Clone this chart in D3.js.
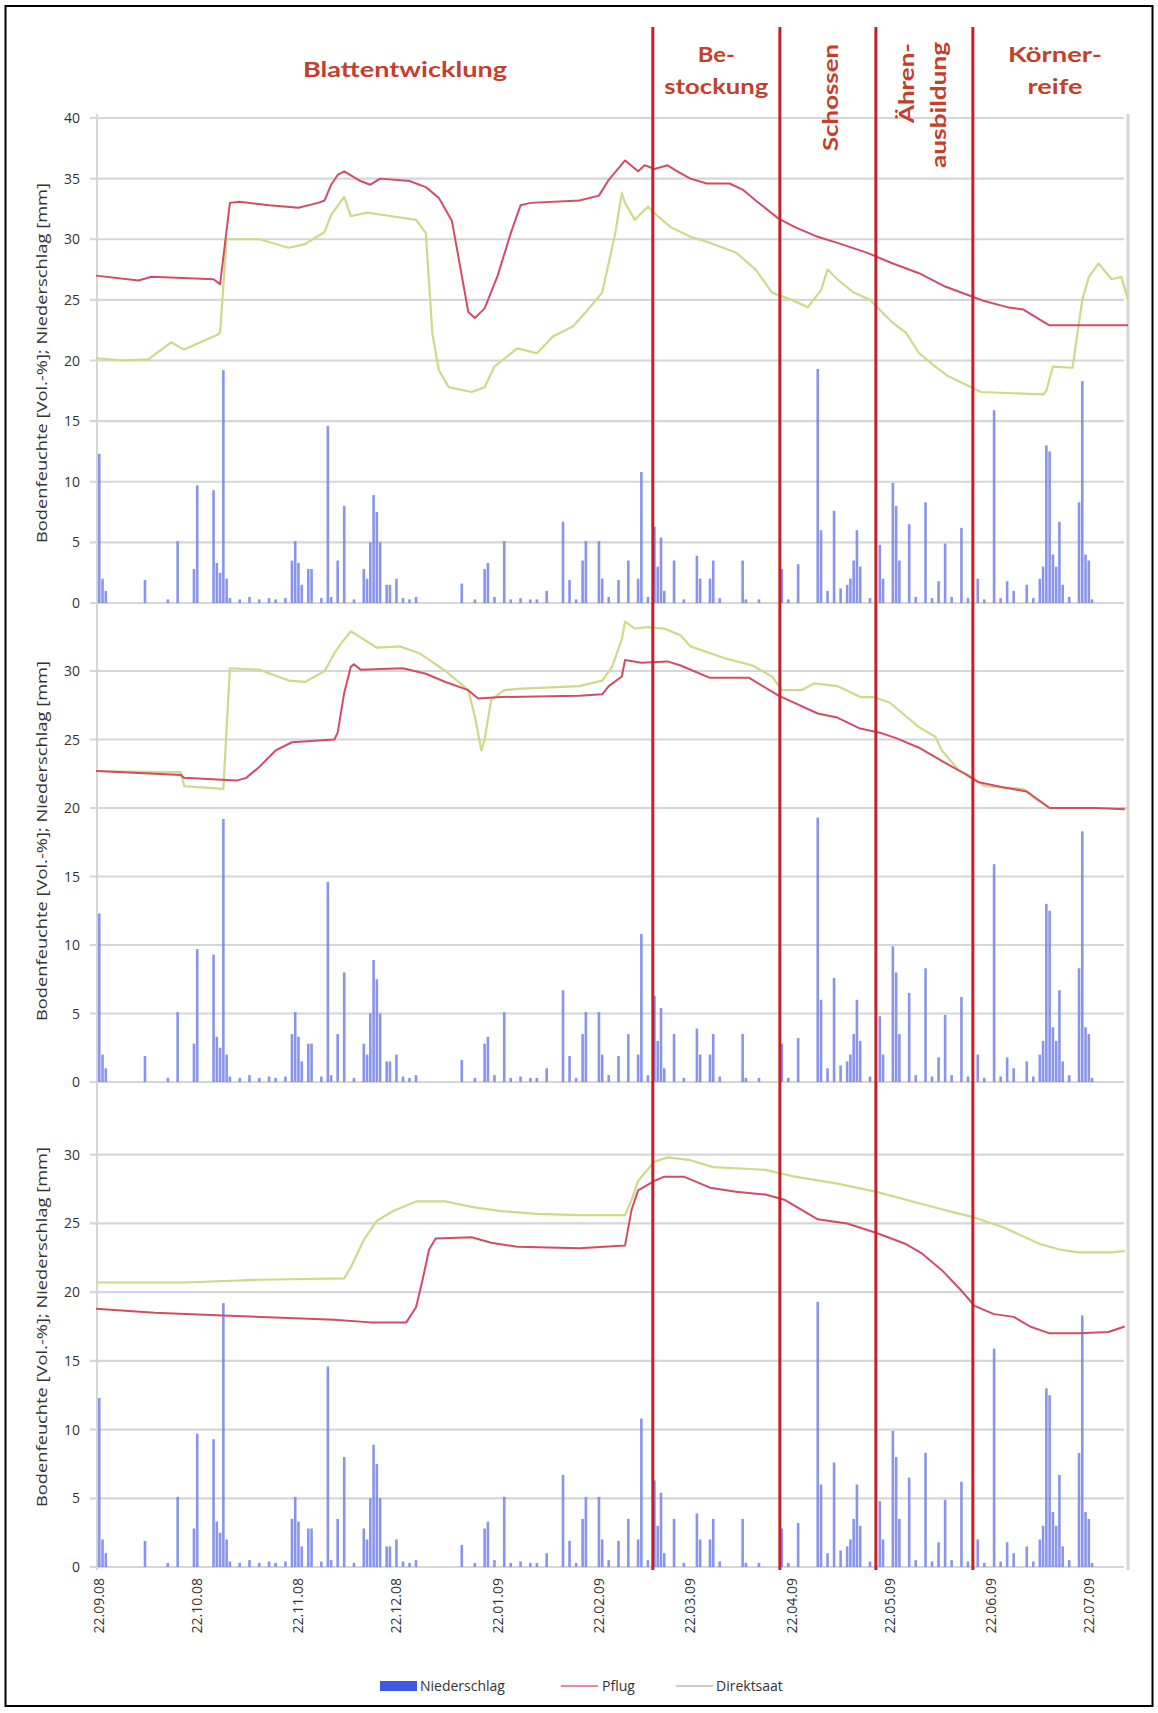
<!DOCTYPE html>
<html><head><meta charset="utf-8">
<script src="https://cdn.jsdelivr.net/npm/d3@7"></script>
<style>body{margin:0;background:#fff}svg{display:block}</style>
</head><body>
<svg id="c" width="1158" height="1713"></svg>
<script>
// ---------- DATA ----------
const startDate = new Date(2008, 8, 21);   // day 0 = 21.09.2008
const lastDay = 316;
const tickDates = ["22.09.08","22.10.08","22.11.08","22.12.08","22.01.09","22.02.09","22.03.09","22.04.09","22.05.09","22.06.09","22.07.09"];

// daily precipitation (Niederschlag) [mm]: day offset, value
const rainDays = [1,2,3,15,22,25,30,31,36,37,38,39,40,41,44,47,50,53,55,58,60,61,62,63,65,66,69,71,72,74,76,79,82,83,84,85,86,87,89,90,92,94,96,98,112,116,119,120,122,125,127,130,133,135,138,143,145,147,149,150,154,155,157,160,163,166,167,169,171,172,173,174,177,180,184,185,188,189,191,198,199,203,210,212,215,221,222,224,226,228,230,231,232,233,234,237,240,241,244,245,246,249,251,254,256,258,260,262,265,267,270,272,275,277,279,281,285,287,289,290,291,292,293,294,295,296,298,301,302,303,304,305];
const rainValues = [12.3,2.0,1.0,1.9,0.3,5.1,2.8,9.7,9.3,3.3,2.5,19.2,2.0,0.4,0.3,0.5,0.3,0.4,0.3,0.4,3.5,5.1,3.3,1.5,2.8,2.8,0.4,14.6,0.5,3.5,8.0,0.3,2.8,2.0,5.0,8.9,7.5,5.0,1.5,1.5,2.0,0.4,0.3,0.5,1.6,0.3,2.8,3.3,0.5,5.1,0.3,0.4,0.3,0.3,1.0,6.7,1.9,0.3,3.5,5.1,5.1,2.0,0.5,1.9,3.5,2.0,10.8,0.5,6.3,3.0,5.4,1.0,3.5,0.3,3.9,2.0,2.0,3.5,0.4,3.5,0.3,0.3,2.8,0.3,3.2,19.3,6.0,1.0,7.6,1.2,1.5,2.0,3.5,6.0,3.0,0.4,4.8,2.0,9.9,8.0,3.5,6.5,0.5,8.3,0.4,1.8,4.9,0.5,6.2,0.4,2.0,0.3,15.9,0.4,1.8,1.0,1.5,0.4,2.0,3.0,13.0,12.5,4.0,3.0,6.7,1.5,0.5,8.3,18.3,4.0,3.5,0.3];

// soil moisture (Bodenfeuchte) [Vol.-%]: [day offset, value]
const pflug1 = [[0,27.0],[13,26.6],[17,26.9],[36,26.7],[38,26.3],[41,33.0],[44,33.1],[53,32.8],[62,32.6],[68,33.0],[70,33.2],[72,34.5],[74,35.3],[76,35.6],[81,34.8],[84,34.5],[87,35.0],[96,34.8],[101,34.3],[105,33.4],[109,31.5],[112,27.0],[114,24.0],[116,23.5],[119,24.3],[123,27.0],[127,30.5],[130,32.8],[133,33.0],[148,33.2],[154,33.6],[157,34.9],[162,36.5],[166,35.6],[168,36.1],[171,35.8],[175,36.1],[178,35.6],[182,35.0],[187,34.6],[194,34.6],[198,34.1],[202,33.2],[209,31.7],[214,31.0],[221,30.2],[227,29.7],[236,28.9],[244,28.0],[252,27.2],[260,26.1],[268,25.3],[272,24.9],[279,24.4],[284,24.2],[290,23.2],[292,22.9],[316,22.9]];
const direkt1 = [[0,20.2],[8,20.0],[16,20.1],[23,21.5],[27,20.9],[37,22.1],[38,22.3],[40,30.0],[50,30.0],[59,29.3],[64,29.6],[70,30.6],[72,32.0],[76,33.5],[78,31.9],[83,32.2],[88,32.0],[98,31.6],[101,30.5],[103,22.2],[105,19.2],[108,17.8],[115,17.4],[119,17.8],[122,19.5],[129,21.0],[135,20.6],[140,22.0],[146,22.8],[150,24.0],[155,25.6],[159,30.5],[161,33.8],[162,33.0],[165,31.6],[169,32.7],[172,31.9],[176,31.0],[182,30.2],[187,29.8],[196,28.9],[202,27.5],[207,25.6],[213,25.0],[218,24.4],[222,25.8],[224,27.5],[227,26.7],[232,25.6],[237,25.0],[241,23.9],[244,23.1],[248,22.3],[252,20.6],[257,19.5],[261,18.7],[268,17.8],[271,17.4],[281,17.3],[290,17.2],[291,17.5],[293,19.5],[299,19.4],[302,25.0],[304,26.9],[307,28.0],[311,26.7],[314,26.9],[316,25.0]];
const pflug2 = [[0,22.7],[18,22.5],[26,22.4],[27,22.2],[43,22.0],[46,22.2],[50,23.0],[55,24.2],[60,24.8],[73,25.0],[74,25.5],[76,28.4],[78,30.3],[79,30.5],[81,30.1],[94,30.2],[101,29.8],[107,29.2],[114,28.6],[117,28.0],[124,28.1],[148,28.2],[155,28.3],[157,28.9],[161,29.6],[162,30.8],[167,30.6],[175,30.7],[179,30.4],[188,29.5],[200,29.5],[209,28.2],[221,26.9],[227,26.6],[234,25.8],[240,25.5],[245,25.1],[252,24.4],[260,23.3],[266,22.5],[270,21.9],[278,21.5],[285,21.2],[292,20.0],[306,20.0],[315,19.9]];
const direkt2 = [[0,22.7],[26,22.6],[27,21.6],[39,21.4],[41,30.2],[50,30.1],[59,29.3],[64,29.2],[70,30.0],[73,31.3],[75,32.0],[78,32.9],[82,32.3],[86,31.7],[93,31.8],[99,31.3],[107,30.0],[114,28.6],[116,26.7],[118,24.2],[119,25.0],[121,27.9],[125,28.6],[129,28.7],[148,28.9],[155,29.3],[158,30.3],[161,32.3],[162,33.6],[165,33.1],[169,33.2],[174,33.1],[179,32.6],[182,31.8],[193,30.9],[201,30.4],[207,29.6],[210,28.6],[216,28.6],[220,29.1],[227,28.9],[234,28.1],[238,28.1],[243,27.7],[247,26.9],[252,25.9],[257,25.2],[259,24.2],[264,22.8],[268,22.3],[272,21.6],[278,21.5],[284,21.4],[287,20.8],[292,20.0],[316,20.0]];
const pflug3 = [[0,18.8],[18,18.5],[39,18.3],[61,18.1],[73,18.0],[84,17.8],[95,17.8],[98,18.9],[100,20.9],[102,23.1],[104,23.9],[115,24.0],[121,23.6],[129,23.3],[148,23.2],[162,23.4],[164,26.0],[166,27.4],[171,28.1],[174,28.4],[180,28.4],[188,27.6],[196,27.3],[205,27.1],[211,26.7],[221,25.3],[230,25.0],[239,24.3],[248,23.5],[253,22.8],[259,21.6],[265,20.1],[269,19.0],[275,18.4],[281,18.2],[286,17.5],[292,17.0],[301,17.0],[310,17.1],[315,17.5]];
const direkt3 = [[0,20.7],[27,20.7],[50,20.9],[76,21.0],[78,21.8],[82,23.8],[86,25.2],[91,25.9],[98,26.6],[107,26.6],[115,26.2],[124,25.9],[135,25.7],[148,25.6],[162,25.6],[164,26.7],[166,28.1],[171,29.5],[175,29.8],[182,29.6],[189,29.1],[205,28.9],[214,28.4],[227,27.9],[239,27.3],[250,26.6],[261,25.9],[268,25.5],[278,24.7],[289,23.5],[295,23.1],[301,22.9],[311,22.9],[315,23.0]];

// growth phases: boundaries (day offsets) and labels
const phaseBounds = [170.5, 209.4, 238.8, 268.5];
const phaseNames = ["Blattentwicklung", "Be-|stockung", "Schossen", "Ähren-|ausbildung", "Körner-|reife"];

const yAxisTitle = "Bodenfeuchte [Vol.-%]; Niederschlag [mm]";
const legendNames = ["Niederschlag", "Pflug", "Direktsaat"];

// ---------- DRAW ----------
const svg = d3.select("#c");
const day = d => d3.timeDay.offset(startDate, Math.floor(d)).getTime() + (d - Math.floor(d)) * 864e5;
const x = d3.scaleTime().domain([startDate, d3.timeDay.offset(startDate, lastDay)]).range([96, 1128]);
const parseTick = d3.timeParse("%d.%m.%y");

const C = {grid:"#d6d6d6", rain:"#7482e6", pflug:"#d24d64", direkt:"#d0d88a", phase:"#c4202a", label:"#c4402a", text:"#333"};

// frame
svg.append("rect").attr("x",5.5).attr("y",6).attr("width",1147).attr("height",1700)
  .attr("fill","none").attr("stroke","#000").attr("stroke-width",2);

const panels = [
  {top:118, bottom:603, max:40, ticks:d3.range(0,41,5), pflug:pflug1, direkt:direkt1, titleY:363},
  {top:602.5, bottom:1082, max:35, ticks:d3.range(0,31,5), pflug:pflug2, direkt:direkt2, titleY:841},
  {top:1086, bottom:1567, max:35, ticks:d3.range(0,31,5), pflug:pflug3, direkt:direkt3, titleY:1327}
];

// outer vertical axis lines
svg.append("line").attr("x1",97).attr("x2",97).attr("y1",114).attr("y2",1570).attr("stroke",C.grid).attr("stroke-width",2);
svg.append("line").attr("x1",1128).attr("x2",1128).attr("y1",114).attr("y2",1570).attr("stroke",C.grid).attr("stroke-width",3);

const rain = rainDays.map((d,i)=>({d, v:rainValues[i]}));

panels.forEach(p => {
  const y = d3.scaleLinear().domain([0,p.max]).range([p.bottom,p.top]);
  const g = svg.append("g");
  g.selectAll("line.grid").data(p.ticks).join("line")
    .attr("x1",90).attr("x2",1124).attr("y1",d=>y(d)).attr("y2",d=>y(d))
    .attr("stroke",C.grid).attr("stroke-width",2.2);
  g.selectAll("text.tick").data(p.ticks).join("text")
    .attr("x",80).attr("y",d=>y(d)+5).attr("text-anchor","end")
    .attr("font-family","Open Sans, sans-serif").attr("font-size",14).attr("fill",C.text).text(d=>d);
  g.selectAll("rect.rain").data(rain).join("rect")
    .attr("x",d=>x(day(d.d))-1.3).attr("width",2.6)
    .attr("y",d=>y(d.v)).attr("height",d=>y(0)-y(d.v))
    .attr("fill",C.rain).attr("opacity",0.85);
  const line = d3.line().x(d=>x(day(d[0]))).y(d=>y(d[1]));
  g.append("path").attr("d",line(p.direkt)).attr("fill","none").attr("stroke",C.direkt).attr("stroke-width",2.2).attr("stroke-linejoin","round");
  g.append("path").attr("d",line(p.pflug)).attr("fill","none").attr("stroke",C.pflug).attr("stroke-width",2).attr("stroke-linejoin","round");
  g.append("text").attr("transform",`translate(42,${p.titleY}) rotate(-90)`)
    .attr("text-anchor","middle").attr("dy","0.35em")
    .attr("font-family","Open Sans, sans-serif").attr("font-size",14).attr("fill",C.text)
    .attr("textLength",360).attr("lengthAdjust","spacingAndGlyphs").text(yAxisTitle);
});

// phase boundaries
svg.selectAll("line.phase").data(phaseBounds).join("line")
  .attr("x1",d=>x(day(d))).attr("x2",d=>x(day(d))).attr("y1",27).attr("y2",1570)
  .attr("stroke",C.phase).attr("stroke-width",3);

// phase labels
const lab = (txt, cx, cy, len, rot) => {
  const t = svg.append("text").attr("font-family","Lato, Open Sans, sans-serif").attr("font-weight","bold")
    .attr("font-size",20).attr("fill",C.label).attr("textLength",len).attr("lengthAdjust","spacingAndGlyphs").text(txt);
  if (rot) t.attr("transform",`translate(${cx},${cy}) rotate(-90)`).attr("text-anchor","end").attr("dy","0.35em");
  else t.attr("x",cx).attr("y",cy).attr("text-anchor","middle").attr("dy","0.35em");
};
const bounds = [x.range()[0], ...phaseBounds.map(d=>x(day(d))), x.range()[1]];
const mid = i => (bounds[i]+bounds[i+1])/2;
lab(phaseNames[0], 405, 70, 204, false);
const be = phaseNames[1].split("|");
lab(be[0], mid(1), 55, 37, false);
lab(be[1], mid(1), 87, 104, false);
lab(phaseNames[2], mid(2)+3, 44, 107, true);
const ae = phaseNames[3].split("|");
lab(ae[0], mid(3)-17, 43, 80, true);
lab(ae[1], mid(3)+15, 42, 126, true);
const ko = phaseNames[4].split("|");
lab(ko[0], 1055, 55, 94, false);
lab(ko[1], 1055, 87, 55, false);

// x tick labels
svg.selectAll("text.xt").data(tickDates).join("text")
  .attr("transform",d=>`translate(${x(parseTick(d))},1578) rotate(-90)`)
  .attr("text-anchor","end").attr("dy","0.35em")
  .attr("font-family","Open Sans, sans-serif").attr("font-size",14).attr("fill",C.text).text(d=>d);

// legend
const lg = svg.append("g").attr("font-family","Open Sans, sans-serif").attr("font-size",14).attr("fill",C.text);
lg.append("rect").attr("x",380).attr("y",1681).attr("width",37).attr("height",10).attr("fill","#3f57e8");
lg.append("text").attr("x",420).attr("y",1686).attr("dy","0.35em").text(legendNames[0]);
lg.append("line").attr("x1",561).attr("x2",598).attr("y1",1686).attr("y2",1686).attr("stroke","#e8899a").attr("stroke-width",2);
lg.append("text").attr("x",602).attr("y",1686).attr("dy","0.35em").text(legendNames[1]);
lg.append("line").attr("x1",676).attr("x2",713).attr("y1",1686).attr("y2",1686).attr("stroke","#cccccc").attr("stroke-width",2);
lg.append("text").attr("x",716).attr("y",1686).attr("dy","0.35em").text(legendNames[2]);
</script>
</body></html>
